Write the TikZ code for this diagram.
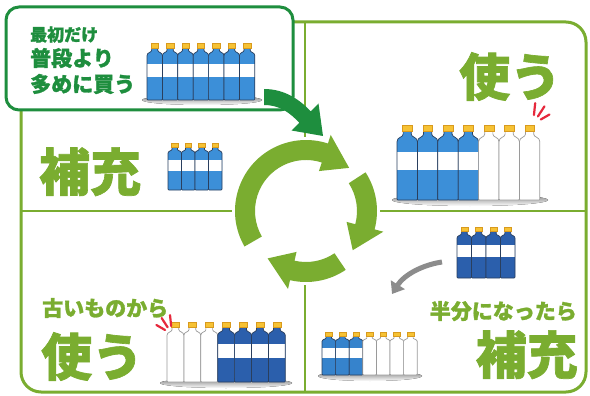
\documentclass[tikz,border=0pt]{standalone}
\usepackage{fontspec}
\newfontfamily\jp{Noto Sans CJK JP}[BoldFeatures={FakeBold=1.3}]
\usetikzlibrary{arrows.meta}

\definecolor{leaf}{HTML}{7AAD30}
\definecolor{dkgreen}{HTML}{1E8E3E}
\definecolor{lblue}{HTML}{3C8FD8}
\definecolor{mblue}{HTML}{3683CC}
\definecolor{dblue}{HTML}{2B5FAC}
\definecolor{navy}{HTML}{2A3F5E}
\definecolor{capy}{HTML}{F6C234}
\definecolor{capedge}{HTML}{D89A1E}
\definecolor{wedge}{HTML}{9A9A9A}
\definecolor{shade}{HTML}{9FD27E}
\definecolor{alert}{HTML}{E6283C}
\definecolor{arrowgray}{HTML}{8C8C8C}

% one row of bottles: #1,#2 = bottom-left corner, #3 = width unit, #4 = height unit,
% #5 = list of body/outline colour pairs
\newcommand\bottlerow[5]{%
  \begin{scope}[shift={(#1,#2)}, x=#3pt, y=#4pt]
    \foreach \bc/\be [count=\i from 0] in {#5}{
      \begin{scope}[shift={(\i,0)}]
        \fill[\bc, rounded corners=0.8pt] (0,0) -- (0,2.85) .. controls (0,3.12) and (0.3,3.1) .. (0.3,3.3)
          -- (0.3,3.42) -- (0.7,3.42) -- (0.7,3.3) .. controls (0.7,3.1) and (1,3.12) .. (1,2.85) -- (1,0) -- cycle;
        \fill[white] (0,1.5) rectangle (1,2.38);
        \draw[\be, line width=0.7pt, rounded corners=0.8pt] (0,0) -- (0,2.85) .. controls (0,3.12) and (0.3,3.1) .. (0.3,3.3)
          -- (0.3,3.42) -- (0.7,3.42) -- (0.7,3.3) .. controls (0.7,3.1) and (1,3.12) .. (1,2.85) -- (1,0) -- cycle;
        \fill[capy, draw=capedge, line width=0.3pt] (0.26,3.42) rectangle (0.74,3.72);
      \end{scope}
    }
  \end{scope}}

% clockwise arc arrow around the cycle centre: start angle, head base angle, tip angle
\newcommand\cyclearrow[3]{%
  \fill[leaf] (#1:71) arc[start angle=#1, end angle=#2, radius=71] -- (#2:80) -- (#3:61)
    -- (#2:42) -- (#2:51) arc[start angle=#2, end angle=#1, radius=51] -- cycle;}

\tikzset{
  bigword/.style={font=\jp\bfseries\fontsize{51}{51}\selectfont, text=leaf, inner sep=0pt},
  midword/.style={font=\jp\bfseries\fontsize{21}{21}\selectfont, text=leaf, inner sep=0pt},
  boxword/.style={font=\jp\bfseries\fontsize{21}{21}\selectfont, text=dkgreen, inner sep=0pt},
  divider/.style={leaf, line width=2pt},
  sparks/.style={alert, line width=2.2pt, line cap=round},
}

\begin{document}
\begin{tikzpicture}[x=1pt, y=-1pt]
\useasboundingbox (0,0) rectangle (590,396);
\fill[white] (0,0) rectangle (590,396);

% outer frame and quadrant dividers
\draw[leaf, line width=3pt, rounded corners=20pt] (21,22) rectangle (586,392);
\draw[divider] (305,22) -- (305,392);
\draw[divider] (21,211) -- (586,211);

% the cycle
\fill[white] (306,211) circle[radius=74];
\begin{scope}[shift={(306,211)}, x=1pt, y=1pt]
  \cyclearrow{210}{72}{45}
  \cyclearrow{33}{-15}{-40}
  \cyclearrow{-56}{-103}{-129}
\end{scope}

% starting box
\draw[dkgreen, line width=3pt, fill=white, rounded corners=13pt] (6,7) rectangle (293,110);
\node[font=\jp\bfseries\fontsize{17}{17}\selectfont, text=dkgreen, inner sep=0pt, anchor=base west] (first) at (30,41) {最初だけ};
\node[boxword, anchor=base west] (usual) at (30,66) {普段より};
\node[boxword, anchor=base west] (buy) at (30,92) {多めに買う};
\fill[shade] (202,100) ellipse[x radius=60, y radius=5];
\bottlerow{147}{100}{15.4}{15.3}{lblue/navy,lblue/navy,lblue/navy,lblue/navy,lblue/navy,lblue/navy,lblue/navy}

% arrow from the box into the cycle
\fill[dkgreen] (264,89) .. controls (285,89) and (300,100) .. (310.7,111.3) -- (318.5,103.5) -- (323,136)
  -- (291.5,130.5) -- (299.3,122.7) .. controls (290,113) and (280,105) .. (264,105) -- cycle;

% top right: use
\node[bigword, anchor=base west] (use1) at (459,96) {使う};
\fill[shade] (470,200) ellipse[x radius=78, y radius=6];
\bottlerow{397}{200}{20.4}{20.2}{lblue/navy,lblue/navy,lblue/navy,lblue/navy,white/wedge,white/wedge,white/wedge}
\begin{scope}[shift={(533,124)}, x=1pt, y=1pt]
  \draw[sparks] (84:9) -- (84:21);
  \draw[sparks] (57:9) -- (57:21);
  \draw[sparks] (30:9) -- (30:19);
\end{scope}

% middle left: refill
\node[bigword, anchor=base west] (refill1) at (39,191) {補充};
\bottlerow{168}{190}{13.5}{12.6}{lblue/navy,lblue/navy,lblue/navy,lblue/navy}

% bottom left: use the old ones first
\node[midword, anchor=base west] (oldfirst) at (42,316) {古いものから};
\node[bigword, anchor=base west] (use2) at (41,376) {使う};
\fill[shade] (226,383) ellipse[x radius=66, y radius=5];
\bottlerow{167}{382}{16.9}{16.1}{white/wedge,white/wedge,white/wedge,dblue/navy,dblue/navy,dblue/navy,dblue/navy}
\begin{scope}[shift={(172,334)}, x=1pt, y=1pt]
  \draw[sparks] (96:8) -- (96:19);
  \draw[sparks] (123:8) -- (123:19);
  \draw[sparks] (150:8) -- (150:18);
\end{scope}

% bottom right: refill at half
\bottlerow{457}{278}{14.5}{13.7}{dblue/navy,dblue/navy,dblue/navy,dblue/navy}
\coordinate (packside) at (442,262);
\coordinate (rowtop) at (392,294);
\draw[arrowgray, line width=5pt, -{Triangle[length=11pt, width=16pt]}]
  (packside) .. controls (422,265) and (404,275) .. (rowtop);
\node[midword, anchor=base east] (half) at (577,319) {半分になったら};
\node[bigword, anchor=base east] (refill2) at (578,374) {補充};
\fill[shade] (370,376) ellipse[x radius=52, y radius=5];
\bottlerow{322}{375}{13.6}{11.5}{mblue/navy,mblue/navy,mblue/navy,white/wedge,white/wedge,white/wedge,white/wedge}

\end{tikzpicture}
\end{document}
